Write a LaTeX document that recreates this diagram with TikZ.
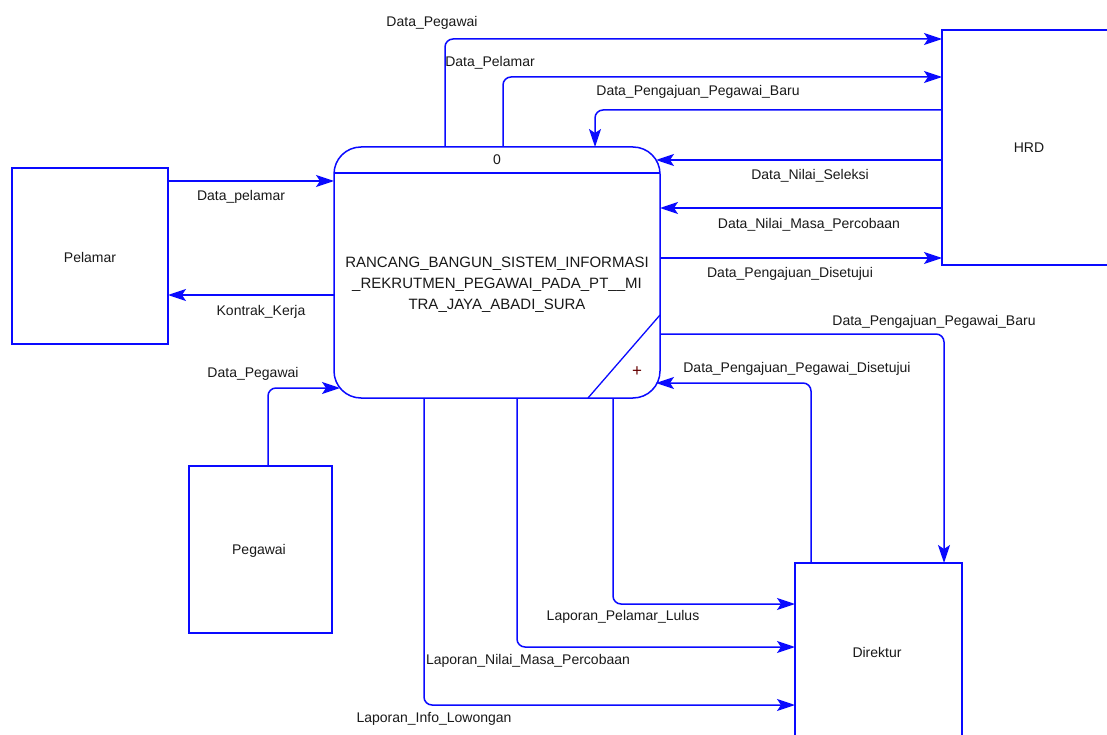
\documentclass[tikz,border=0pt]{standalone}
\usepackage{fontspec}
\setmainfont{Liberation Sans}
\usetikzlibrary{arrows.meta}
\definecolor{dfdblue}{RGB}{10,10,255}
\tikzset{
  box/.style={draw=dfdblue, line width=1.5pt, rectangle, inner sep=0pt, outer sep=0pt, fill=white},
  procbox/.style={box, rounded corners=27pt},
  flow/.style={draw=dfdblue, line width=1.5pt, rounded corners=8pt,
    -{Stealth[length=18pt,width=12pt,inset=4pt]}},
  lbl/.style={font=\fontsize{14}{16}\selectfont, inner sep=0pt, text=black!90},
  boxtext/.style={font=\fontsize{14}{16}\selectfont, text=black!90}
}
\begin{document}
\begin{tikzpicture}[x=1pt,y=-1pt]
\useasboundingbox (0,0) rectangle (1107,735);

% entities and process
\node[box, minimum width=156pt, minimum height=176pt] (pelamar) at (90,256) {};
\node[boxtext] (pelamarT) at (90,257) {Pelamar};
\node[procbox, minimum width=326pt, minimum height=251pt] (proc) at (497,272.5) {};
\node[box, minimum width=174pt, minimum height=235pt] (hrd) at (1029,147.5) {};
\node[boxtext] (hrdT) at (1029,148) {HRD};
\node[box, minimum width=143pt, minimum height=167pt] (pegawai) at (260.5,549.5) {};
\node[boxtext] (pegawaiT) at (259,551) {Pegawai};
\node[box, minimum width=167pt, minimum height=178pt] (dir) at (878.5,652) {};
\node[boxtext] (dirT) at (877,652) {Direktur};

% process internals
\coordinate (hl) at (334,173);
\coordinate (hr) at (660,173);
\draw[draw=dfdblue, line width=1.5pt] (proc.west |- hl) -- (proc.east |- hr);
\node[boxtext] (pnum) at (497,160) {0};
\node[font=\fontsize{15}{21}\selectfont, text=black!90, align=center, inner sep=0pt] (ptext) at (497,285)
  {RANCANG\_BANGUN\_SISTEM\_INFORMASI\\\_REKRUTMEN\_PEGAWAI\_PADA\_PT\_\_MI\\TRA\_JAYA\_ABADI\_SURA};
\coordinate (d1) at (660,315);
\coordinate (d2) at (588,398);
\draw[draw=dfdblue, line width=1.3pt] (proc.east |- d1) -- (proc.south -| d2);
\node[font=\fontsize{17}{17}\selectfont, text=black!60!red, inner sep=0pt] (plus) at (637,372) {+};

% bend coordinates
\coordinate (b1) at (445,39);
\coordinate (b2) at (503,77);
\coordinate (b3) at (595,110);
\coordinate (b4) at (0,160);
\coordinate (b5) at (0,208);
\coordinate (b6) at (0,258);
\coordinate (b7) at (0,181);
\coordinate (b8) at (0,295);
\coordinate (b9) at (268,388);
\coordinate (b10) at (944,334);
\coordinate (b11) at (811,383);
\coordinate (b12) at (613,604);
\coordinate (b13) at (517,647);
\coordinate (b14) at (424,705);

% connectors
\draw[flow] (proc.north -| b1) |- (hrd.west |- b1);
\draw[flow] (proc.north -| b2) |- (hrd.west |- b2);
\draw[flow] (hrd.west |- b3) -| (proc.north -| b3);
\draw[flow, shorten >=-4pt] (hrd.west |- b4) -- (proc.east |- b4);
\draw[flow] (hrd.west |- b5) -- (proc.east |- b5);
\draw[flow] (proc.east |- b6) -- (hrd.west |- b6);
\draw[flow] (pelamar.east |- b7) -- (proc.west |- b7);
\draw[flow] (proc.west |- b8) -- (pelamar.east |- b8);
\draw[flow, shorten >=-6pt] (pegawai.north -| b9) |- (proc.west |- b9);
\draw[flow] (proc.east |- b10) -| (dir.north -| b10);
\draw[flow, shorten >=-4pt] (dir.north -| b11) |- (proc.east |- b11);
\draw[flow] (proc.south -| b12) |- (dir.west |- b12);
\draw[flow] (proc.south -| b13) |- (dir.west |- b13);
\draw[flow] (proc.south -| b14) |- (dir.west |- b14);

% labels
\node[lbl] (l1) at (432,23) {Data\_Pegawai};
\node[lbl] (l2) at (490,63) {Data\_Pelamar};
\node[lbl] (l3) at (698,92) {Data\_Pengajuan\_Pegawai\_Baru};
\node[lbl] (l4) at (810,176) {Data\_Nilai\_Seleksi};
\node[lbl] (l5) at (809,225) {Data\_Nilai\_Masa\_Percobaan};
\node[lbl] (l6) at (790,274) {Data\_Pengajuan\_Disetujui};
\node[lbl] (l7) at (241,197) {Data\_pelamar};
\node[lbl] (l8) at (261,312) {Kontrak\_Kerja};
\node[lbl] (l9) at (253,374) {Data\_Pegawai};
\node[lbl] (l10) at (934,322) {Data\_Pengajuan\_Pegawai\_Baru};
\node[lbl] (l11) at (797,369) {Data\_Pengajuan\_Pegawai\_Disetujui};
\node[lbl] (l12) at (623,617) {Laporan\_Pelamar\_Lulus};
\node[lbl] (l13) at (528,661) {Laporan\_Nilai\_Masa\_Percobaan};
\node[lbl] (l14) at (434,719) {Laporan\_Info\_Lowongan};
\end{tikzpicture}
\end{document}
